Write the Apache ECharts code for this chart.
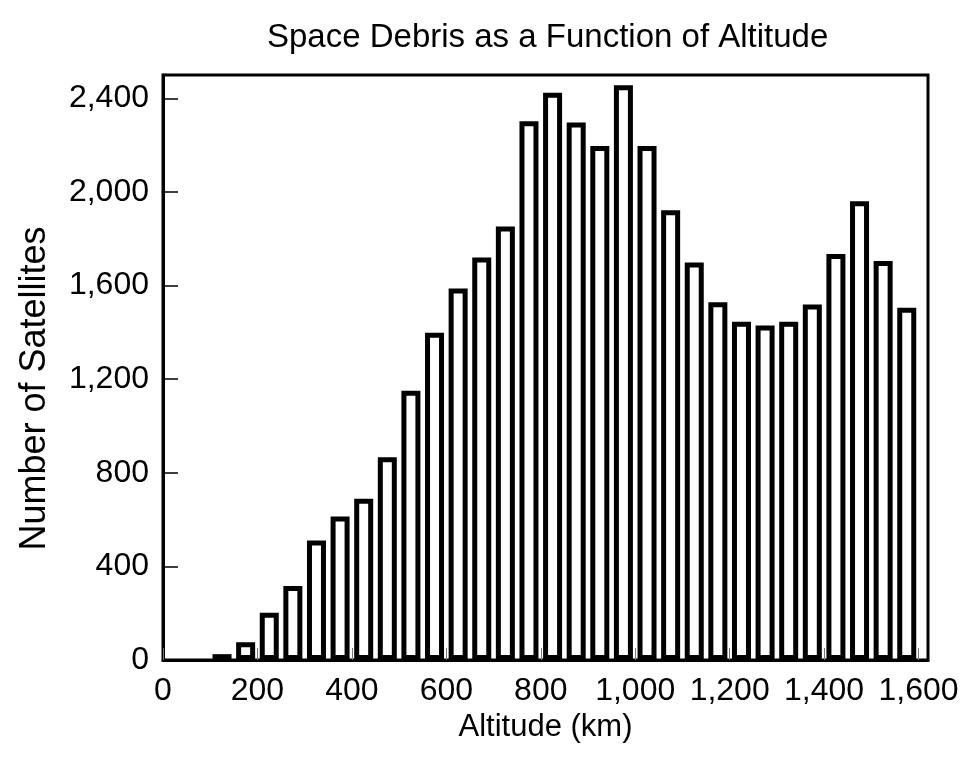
<!DOCTYPE html>
<html>
<head>
<meta charset="utf-8">
<script src="https://cdn.jsdelivr.net/npm/echarts@6/dist/echarts.min.js"></script>
<style>html,body{margin:0;padding:0;background:#fff}#c{width:967px;height:761px}</style>
</head>
<body>
<div id="c"></div>
<script>
const altitudes = [125,175,225,275,325,375,425,475,525,575,625,675,725,775,825,875,925,975,1025,1075,1125,1175,1225,1275,1325,1375,1425,1475,1525,1575];
const satellites = [25,76,202,316,511,613,689,866,1151,1399,1588,1720,1853,2302,2424,2297,2197,2456,2197,1922,1699,1529,1445,1430,1445,1519,1735,1961,1705,1505];
const title = 'Space Debris as a Function of Altitude';
const xName = 'Altitude (km)';
const yName = 'Number of Satellites';

const FONT = '"Liberation Sans Narrow", "Arial Narrow", "Liberation Sans", Arial, sans-serif';
const fmt = v => v.toLocaleString('en-US');
const chart = echarts.init(document.getElementById('c'));
chart.setOption({
  backgroundColor: '#fff',
  animation: false,
  title: {
    text: title, left: 262, top: 16,
    textStyle: {fontFamily: FONT, fontSize: 33, fontWeight: 'normal', color: '#000'}
  },
  grid: {left: 163, right: 39, top: 75, bottom: 101, show: true, borderColor: '#000', borderWidth: 3, backgroundColor: 'transparent'},
  xAxis: {
    type: 'value', min: 0, max: 1620, interval: 200,
    name: xName, nameLocation: 'middle', nameGap: 42,
    nameTextStyle: {fontFamily: FONT, fontSize: 31, color: '#000'},
    axisLine: {show: true, lineStyle: {color: '#000', width: 3}},
    axisTick: {show: true, inside: true, length: 12, lineStyle: {color: '#777', width: 1}},
    axisLabel: {fontFamily: FONT, fontSize: 32, color: '#000', margin: 15, showMaxLabel: false, formatter: fmt},
    splitLine: {show: false}
  },
  yAxis: {
    type: 'value', min: 0, max: 2500, interval: 400,
    name: yName, nameLocation: 'middle', nameGap: 110,
    nameTextStyle: {fontFamily: FONT, fontSize: 36, color: '#000', padding: [0, 42, 0, 0]},
    axisLine: {show: true, lineStyle: {color: '#000', width: 3}},
    axisTick: {show: true, inside: true, length: 15, lineStyle: {color: '#000', width: 1.5}},
    axisLabel: {fontFamily: FONT, fontSize: 32, color: '#000', margin: 14, showMaxLabel: false, formatter: fmt},
    splitLine: {show: false}
  },
  series: [{
    type: 'bar',
    data: altitudes.map((a, i) => [a, satellites[i]]),
    barWidth: 19,
    itemStyle: {color: '#fff', borderColor: '#000', borderWidth: 5}
  }]
});
</script>
</body>
</html>
